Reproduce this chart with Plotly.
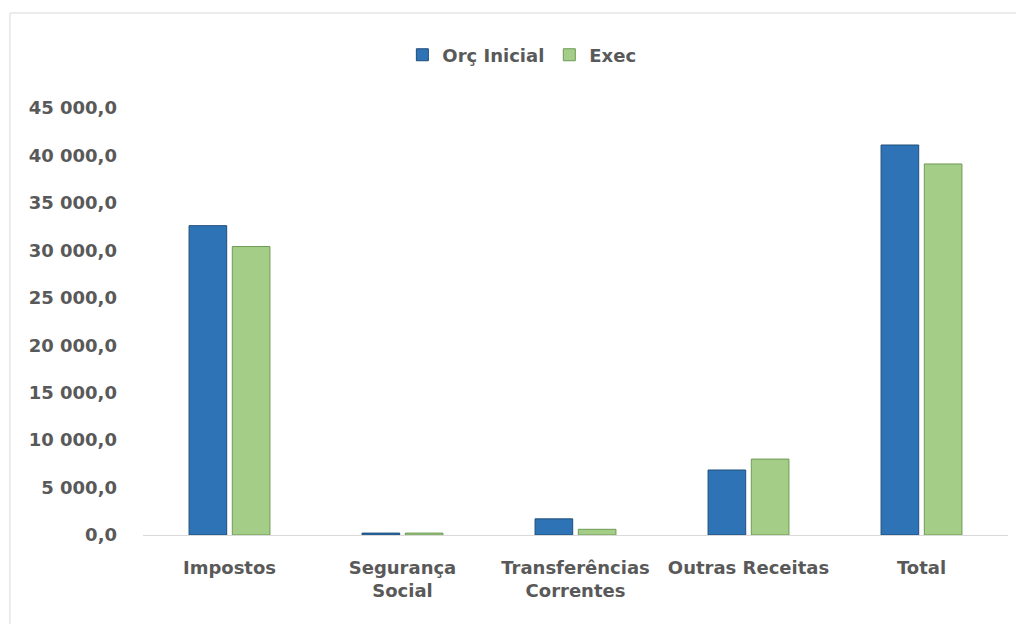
import plotly.graph_objects as go

categories = ["Impostos", "Segurança<br>Social", "Transferências<br>Correntes", "Outras Receitas", "Total"]
orc_inicial = [32600, 200, 1700, 6850, 41100]
execucao = [30400, 200, 600, 8000, 39100]
series_names = ["Orç Inicial", "Exec"]

FONT = "DejaVu Sans"
GRAY = "#595959"

fig = go.Figure()
fig.add_trace(go.Bar(name=series_names[0], x=categories, y=orc_inicial,
                     marker=dict(color="#2E73B5", line=dict(color="#1F4E79", width=1))))
fig.add_trace(go.Bar(name=series_names[1], x=categories, y=execucao,
                     marker=dict(color="#A4CE87", line=dict(color="#6E9A55", width=1))))

fig.update_layout(
    width=1024, height=624,
    paper_bgcolor="white", plot_bgcolor="white",
    margin=dict(l=135, r=24, t=100, b=97, autoexpand=False),
    barmode="group", bargap=0.5, bargroupgap=0.13,
    separators=", ",
    font=dict(family=FONT, color=GRAY, size=18),
    showlegend=True,
    legend=dict(orientation="h", x=0.438, xanchor="center", y=1.124, yanchor="middle",
                font=dict(family=FONT, size=18, color=GRAY, weight="bold"),
                traceorder="normal"),
    shapes=[dict(type="rect", xref="paper", yref="paper",
                 x0=-0.1538, x1=1.05, y0=-0.4, y1=1.2225,
                 line=dict(color="#D9D9D9", width=1))],
)
fig.update_yaxes(range=[0, 45000], dtick=5000, tickformat=",.1f",
                 showgrid=False, zeroline=False, showline=False, automargin=False,
                 tickfont=dict(family=FONT, size=18, color=GRAY, weight="bold"),
                 ticklabelstandoff=25)
fig.update_xaxes(showline=True, linecolor="#D9D9D9", linewidth=1, automargin=False,
                 tickfont=dict(family=FONT, size=18, color=GRAY, weight="bold"),
                 ticklabelstandoff=16)

fig.write_html("out.html")
